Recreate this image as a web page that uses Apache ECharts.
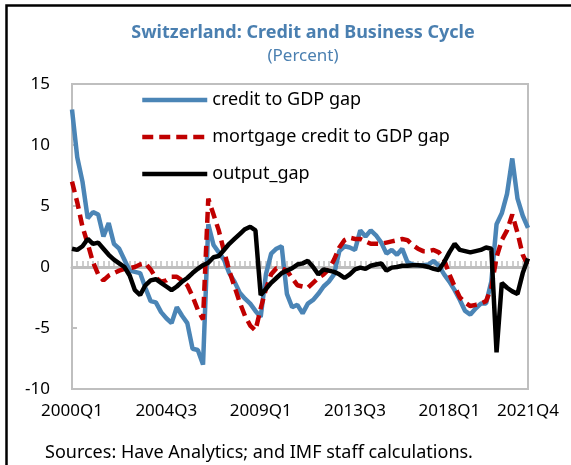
<!DOCTYPE html>
<html>
<head>
<meta charset="utf-8">
<script src="https://cdn.jsdelivr.net/npm/echarts@6/dist/echarts.min.js"></script>
<style>
  html, body { margin: 0; padding: 0; background: #fff; }
  #main { width: 571px; height: 465px; }
</style>
</head>
<body>
<div id="main"></div>
<script>
// quarterly categories 2000Q1 .. 2021Q4
const quarters = [];
for (let y = 2000; y <= 2021; y++) {
    for (let q = 1; q <= 4; q++) quarters.push(y + 'Q' + q);
}
const tickLabels = ['2000Q1', '2004Q3', '2009Q1', '2013Q3', '2018Q1', '2021Q4'];

const creditGap = [
    12.9, 9.0, 7.0, 4.0, 4.5, 4.3, 2.5, 3.6, 1.9, 1.5,
    0.6, -0.3, -0.4, -0.5, -1.7, -2.8, -2.9, -3.7, -4.2, -4.6,
    -3.3, -4.0, -4.6, -6.7, -6.8, -8.0, 3.5, 1.8, 1.2, 0.6,
    -0.5, -1.2, -2.1, -2.6, -3.0, -3.6, -4.1, -0.6, 1.1, 1.5,
    1.7, -2.2, -3.3, -3.1, -3.8, -3.0, -2.7, -2.2, -1.6, -1.2,
    -0.6, 1.3, 1.7, 1.6, 1.4, 3.0, 2.5, 3.0, 2.6, 2.0,
    1.1, 1.4, 1.0, 1.5, 0.4, 0.2, 0.15, 0.15, 0.2, 0.5,
    0.1, -0.6, -1.2, -1.9, -2.7, -3.6, -3.9, -3.4, -3.0, -3.0,
    -1.2, 3.5, 4.4, 6.0, 8.9, 5.6, 4.2, 3.2
];
const mortgageGap = [
    7.0, 5.3, 3.3, 1.9, 0.4, -0.6, -1.1, -0.7, -0.5, -0.3,
    -0.15, -0.1, 0.0, 0.2, 0.3, -0.2, -0.9, -1.2, -1.1, -0.8,
    -0.8, -1.1, -1.5, -2.4, -3.5, -4.3, 5.6, 4.3, 3.0, 1.3,
    -0.3, -1.6, -2.9, -4.0, -4.8, -5.2, -3.4, -1.8, -0.6, -0.1,
    -0.1, -0.3, -0.9, -1.5, -1.6, -1.7, -1.3, -0.9, -0.6, -0.2,
    0.6, 1.6, 2.2, 2.4, 2.3, 2.3, 2.1, 1.9, 1.9, 1.9,
    2.0, 2.1, 2.2, 2.3, 2.2, 1.8, 1.5, 1.3, 1.3, 1.4,
    1.2, 0.6, -0.6, -1.6, -2.5, -2.9, -3.2, -3.1, -3.0, -2.8,
    -1.7, 0.8, 2.2, 3.0, 4.3, 2.8, 1.0, 0.1
];
const outputGap = [
    1.5, 1.4, 1.7, 2.3, 1.9, 2.0, 1.5, 1.0, 0.6, 0.3,
    0.0, -0.7, -1.9, -2.3, -1.5, -1.1, -1.0, -1.3, -1.6, -1.9,
    -1.6, -1.2, -0.9, -0.5, -0.15, 0.15, 0.35, 0.8, 0.9, 1.4,
    1.9, 2.3, 2.7, 3.1, 3.3, 3.0, -2.3, -1.8, -1.3, -0.9,
    -0.5, -0.3, -0.1, 0.2, 0.3, 0.5, 0.0, -0.6, -0.2, -0.3,
    -0.4, -0.6, -0.9, -0.6, -0.2, -0.05, -0.15, 0.1, 0.2, 0.3,
    -0.3, -0.05, 0.0, 0.1, 0.1, 0.15, 0.15, 0.1, 0.0, -0.15,
    -0.25, 0.4, 1.2, 1.9, 1.4, 1.3, 1.2, 1.3, 1.4, 1.6,
    1.5, -7.0, -1.3, -1.7, -2.0, -2.2, -0.5, 0.7
];

const FONT = '"Noto Sans", "Open Sans", sans-serif';
const titleBlue = '#4a7fb0';
const gridGrey = '#bfbfbf';

var chartDom = document.getElementById('main');
var myChart = echarts.init(chartDom, null, { renderer: 'canvas' });

var option = {
    animation: false,
    textStyle: { fontFamily: FONT },
    title: {
        text: 'Switzerland: Credit and Business Cycle',
        subtext: '(Percent)',
        left: 298,
        top: 19,
        textAlign: 'center',
        itemGap: 6,
        textStyle: { fontFamily: FONT, fontSize: 18, fontWeight: 'bold', color: titleBlue },
        subtextStyle: { fontFamily: FONT, fontSize: 17, color: titleBlue }
    },
    legend: {
        orient: 'vertical',
        left: 135,
        top: 86,
        itemWidth: 65,
        itemHeight: 14,
        itemGap: 19,
        selectedMode: false,
        itemStyle: { opacity: 0 },
        lineStyle: { width: 4.5 },
        textStyle: { fontFamily: FONT, fontSize: 18, color: '#000' },
        data: ['credit to GDP gap', 'mortgage credit to GDP gap', 'output_gap']
    },
    grid: {
        left: 72,
        right: 43,
        top: 84,
        bottom: 76,
        show: true,
        borderColor: gridGrey,
        borderWidth: 2,
        outerBoundsMode: 'none'
    },
    xAxis: [
        {
            // zero line with a tick on every quarter
            type: 'category',
            data: quarters,
            boundaryGap: false,
            position: 'bottom',
            axisLine: { onZero: true, lineStyle: { color: gridGrey, width: 3 } },
            axisTick: { show: true, inside: true, interval: 0, length: 6, lineStyle: { color: gridGrey, width: 1.5 } },
            axisLabel: { show: false },
            splitLine: { show: false }
        },
        {
            type: 'category',
            data: quarters,
            boundaryGap: false,
            position: 'bottom',
            axisLine: { show: false, onZero: false },
            axisTick: { show: false },
            axisLabel: {
                interval: (idx, val) => tickLabels.indexOf(val) >= 0,
                fontFamily: FONT,
                fontSize: 17,
                color: '#000',
                margin: 14
            },
            splitLine: { show: false }
        }
    ],
    yAxis: {
        type: 'value',
        min: -10,
        max: 15,
        interval: 5,
        axisLine: { show: false },
        axisTick: { show: true, inside: true, length: 5, lineStyle: { color: gridGrey, width: 2 } },
        axisLabel: { fontFamily: FONT, fontSize: 17, color: '#000', margin: 22 },
        splitLine: { show: false }
    },
    series: [
        {
            name: 'credit to GDP gap',
            type: 'line',
            data: creditGap,
            symbol: 'none',
            lineStyle: { color: '#4b85b6', width: 4.5 },
            itemStyle: { color: '#4b85b6' }
        },
        {
            name: 'mortgage credit to GDP gap',
            type: 'line',
            data: mortgageGap,
            symbol: 'none',
            lineStyle: { color: '#c00000', width: 4.5, type: [11, 6] },
            itemStyle: { color: '#c00000' }
        },
        {
            name: 'output_gap',
            type: 'line',
            data: outputGap,
            symbol: 'none',
            lineStyle: { color: '#000', width: 4.5 },
            itemStyle: { color: '#000' }
        }
    ],
    graphic: [
        {
            type: 'rect',
            shape: { x: 6.5, y: 5.5, width: 700, height: 600 },
            style: { fill: null, stroke: '#000', lineWidth: 2.5 },
            silent: true
        },
        {
            type: 'text',
            left: 45,
            top: 444,
            style: {
                text: 'Sources: Have Analytics; and IMF staff calculations.',
                font: '18px ' + FONT,
                fill: '#000'
            }
        }
    ]
};

myChart.setOption(option);
</script>
</body>
</html>
